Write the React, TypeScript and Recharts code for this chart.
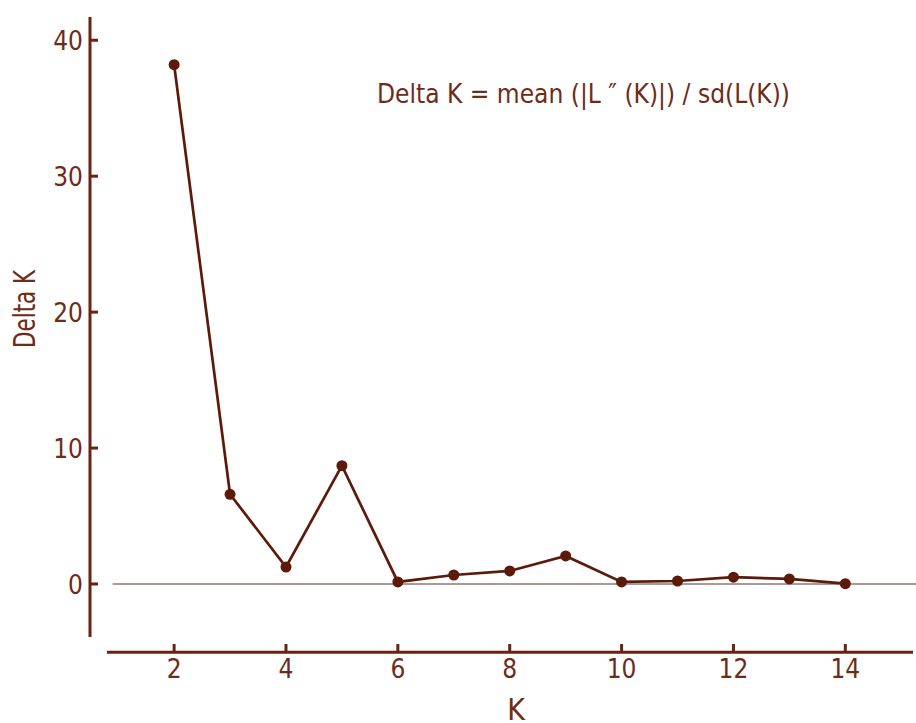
import { LineChart, Line, XAxis, YAxis, ReferenceLine, Customized } from 'recharts';

// Delta K (Evanno) by number of clusters K
const kValues = [2, 3, 4, 5, 6, 7, 8, 9, 10, 11, 12, 13, 14];
const deltaK = [38.2, 6.6, 1.25, 8.7, 0.15, 0.66, 0.96, 2.06, 0.15, 0.22, 0.5, 0.37, 0.02];
const xTicks = [2, 4, 6, 8, 10, 12, 14];
const yTicks = [0, 10, 20, 30, 40];

const data = kValues.map((k, i) => ({ k, dk: deltaK[i] }));

const X_DOMAIN: [number, number] = [0.8, 15.21];
const Y_DOMAIN: [number, number] = [-3.9, 41.71];

const LINE = '#5c1a09';
const AXIS = '#6a2310';
const TEXT = '#6e2c18';
const FONT = "'Liberation Sans Narrow', 'DejaVu Sans Condensed', 'Roboto Condensed', Roboto, sans-serif";

function XTick(props: any) {
    const { x, y, payload } = props;
    return (
        <g>
            <line x1={x} x2={x} y1={y + 15} y2={y + 7} stroke={AXIS} strokeWidth={3} />
            <text x={x} y={y + 41} textAnchor="middle" fill={TEXT} fontSize={26} fontFamily={FONT}>
                {payload.value}
            </text>
        </g>
    );
}

function YTick(props: any) {
    const { x, y, payload } = props;
    return (
        <g>
            <line x1={x - 17} x2={x - 9} y1={y} y2={y} stroke={AXIS} strokeWidth={3} />
            <text x={x - 24} y={y + 10} textAnchor="end" fill={TEXT} fontSize={26} fontFamily={FONT}>
                {payload.value}
            </text>
        </g>
    );
}

function Formula() {
    return (
        <text x={377} y={103} fill={TEXT} fontSize={27} fontFamily={FONT} textLength={413} lengthAdjust="spacingAndGlyphs">
            Delta K = mean (|L ″ (K)|) / sd(L(K))
        </text>
    );
}

export default function App() {
    return (
        <div style={{ position: 'absolute', left: 0, top: 0, background: '#fff' }}>
            <LineChart width={916} height={723} data={data} margin={{ top: 17, right: 3, bottom: 0, left: 0 }}>
                <XAxis
                    dataKey="k"
                    type="number"
                    domain={X_DOMAIN}
                    ticks={xTicks}
                    allowDataOverflow
                    axisLine={false}
                    tickLine={false}
                    tickSize={0}
                    tickMargin={0}
                    height={86}
                    tick={<XTick />}
                    label={(p: any) => {
                        const vb = p.viewBox;
                        return (
                            <text x={vb.x + vb.width / 2 + 6} y={vb.y + 83} textAnchor="middle" fill={TEXT} fontSize={30} fontFamily={FONT}>
                                K
                            </text>
                        );
                    }}
                />
                <YAxis
                    type="number"
                    domain={Y_DOMAIN}
                    ticks={yTicks}
                    allowDataOverflow
                    axisLine={false}
                    tickLine={false}
                    tickSize={0}
                    tickMargin={0}
                    width={107}
                    tick={<YTick />}
                    label={(p: any) => {
                        const vb = p.viewBox;
                        const cx = vb.x + 35;
                        const cy = vb.y + vb.height / 2 - 18;
                        return (
                            <text x={cx} y={cy} transform={`rotate(-90 ${cx} ${cy})`} textAnchor="middle" fill={TEXT} fontSize={30} fontFamily={FONT} textLength={78} lengthAdjust="spacingAndGlyphs">
                                Delta K
                            </text>
                        );
                    }}
                />
                {/* detached axis lines */}
                <ReferenceLine
                    segment={[{ x: 0.496, y: Y_DOMAIN[0] }, { x: 0.496, y: Y_DOMAIN[1] }]}
                    stroke={AXIS}
                    strokeWidth={3}
                    ifOverflow="visible"
                />
                <ReferenceLine
                    segment={[{ x: X_DOMAIN[0], y: -5.03 }, { x: X_DOMAIN[1], y: -5.03 }]}
                    stroke={AXIS}
                    strokeWidth={3}
                    ifOverflow="visible"
                />
                <ReferenceLine
                    segment={[{ x: 0.9, y: 0 }, { x: 15.3, y: 0 }]}
                    stroke="#8c7b76"
                    strokeWidth={1.6}
                    ifOverflow="visible"
                />
                <Line
                    dataKey="dk"
                    stroke={LINE}
                    strokeWidth={2.7}
                    dot={{ r: 5.5, fill: LINE, stroke: LINE, strokeWidth: 0 }}
                    isAnimationActive={false}
                />
                <Customized component={<Formula />} />
            </LineChart>
        </div>
    );
}
